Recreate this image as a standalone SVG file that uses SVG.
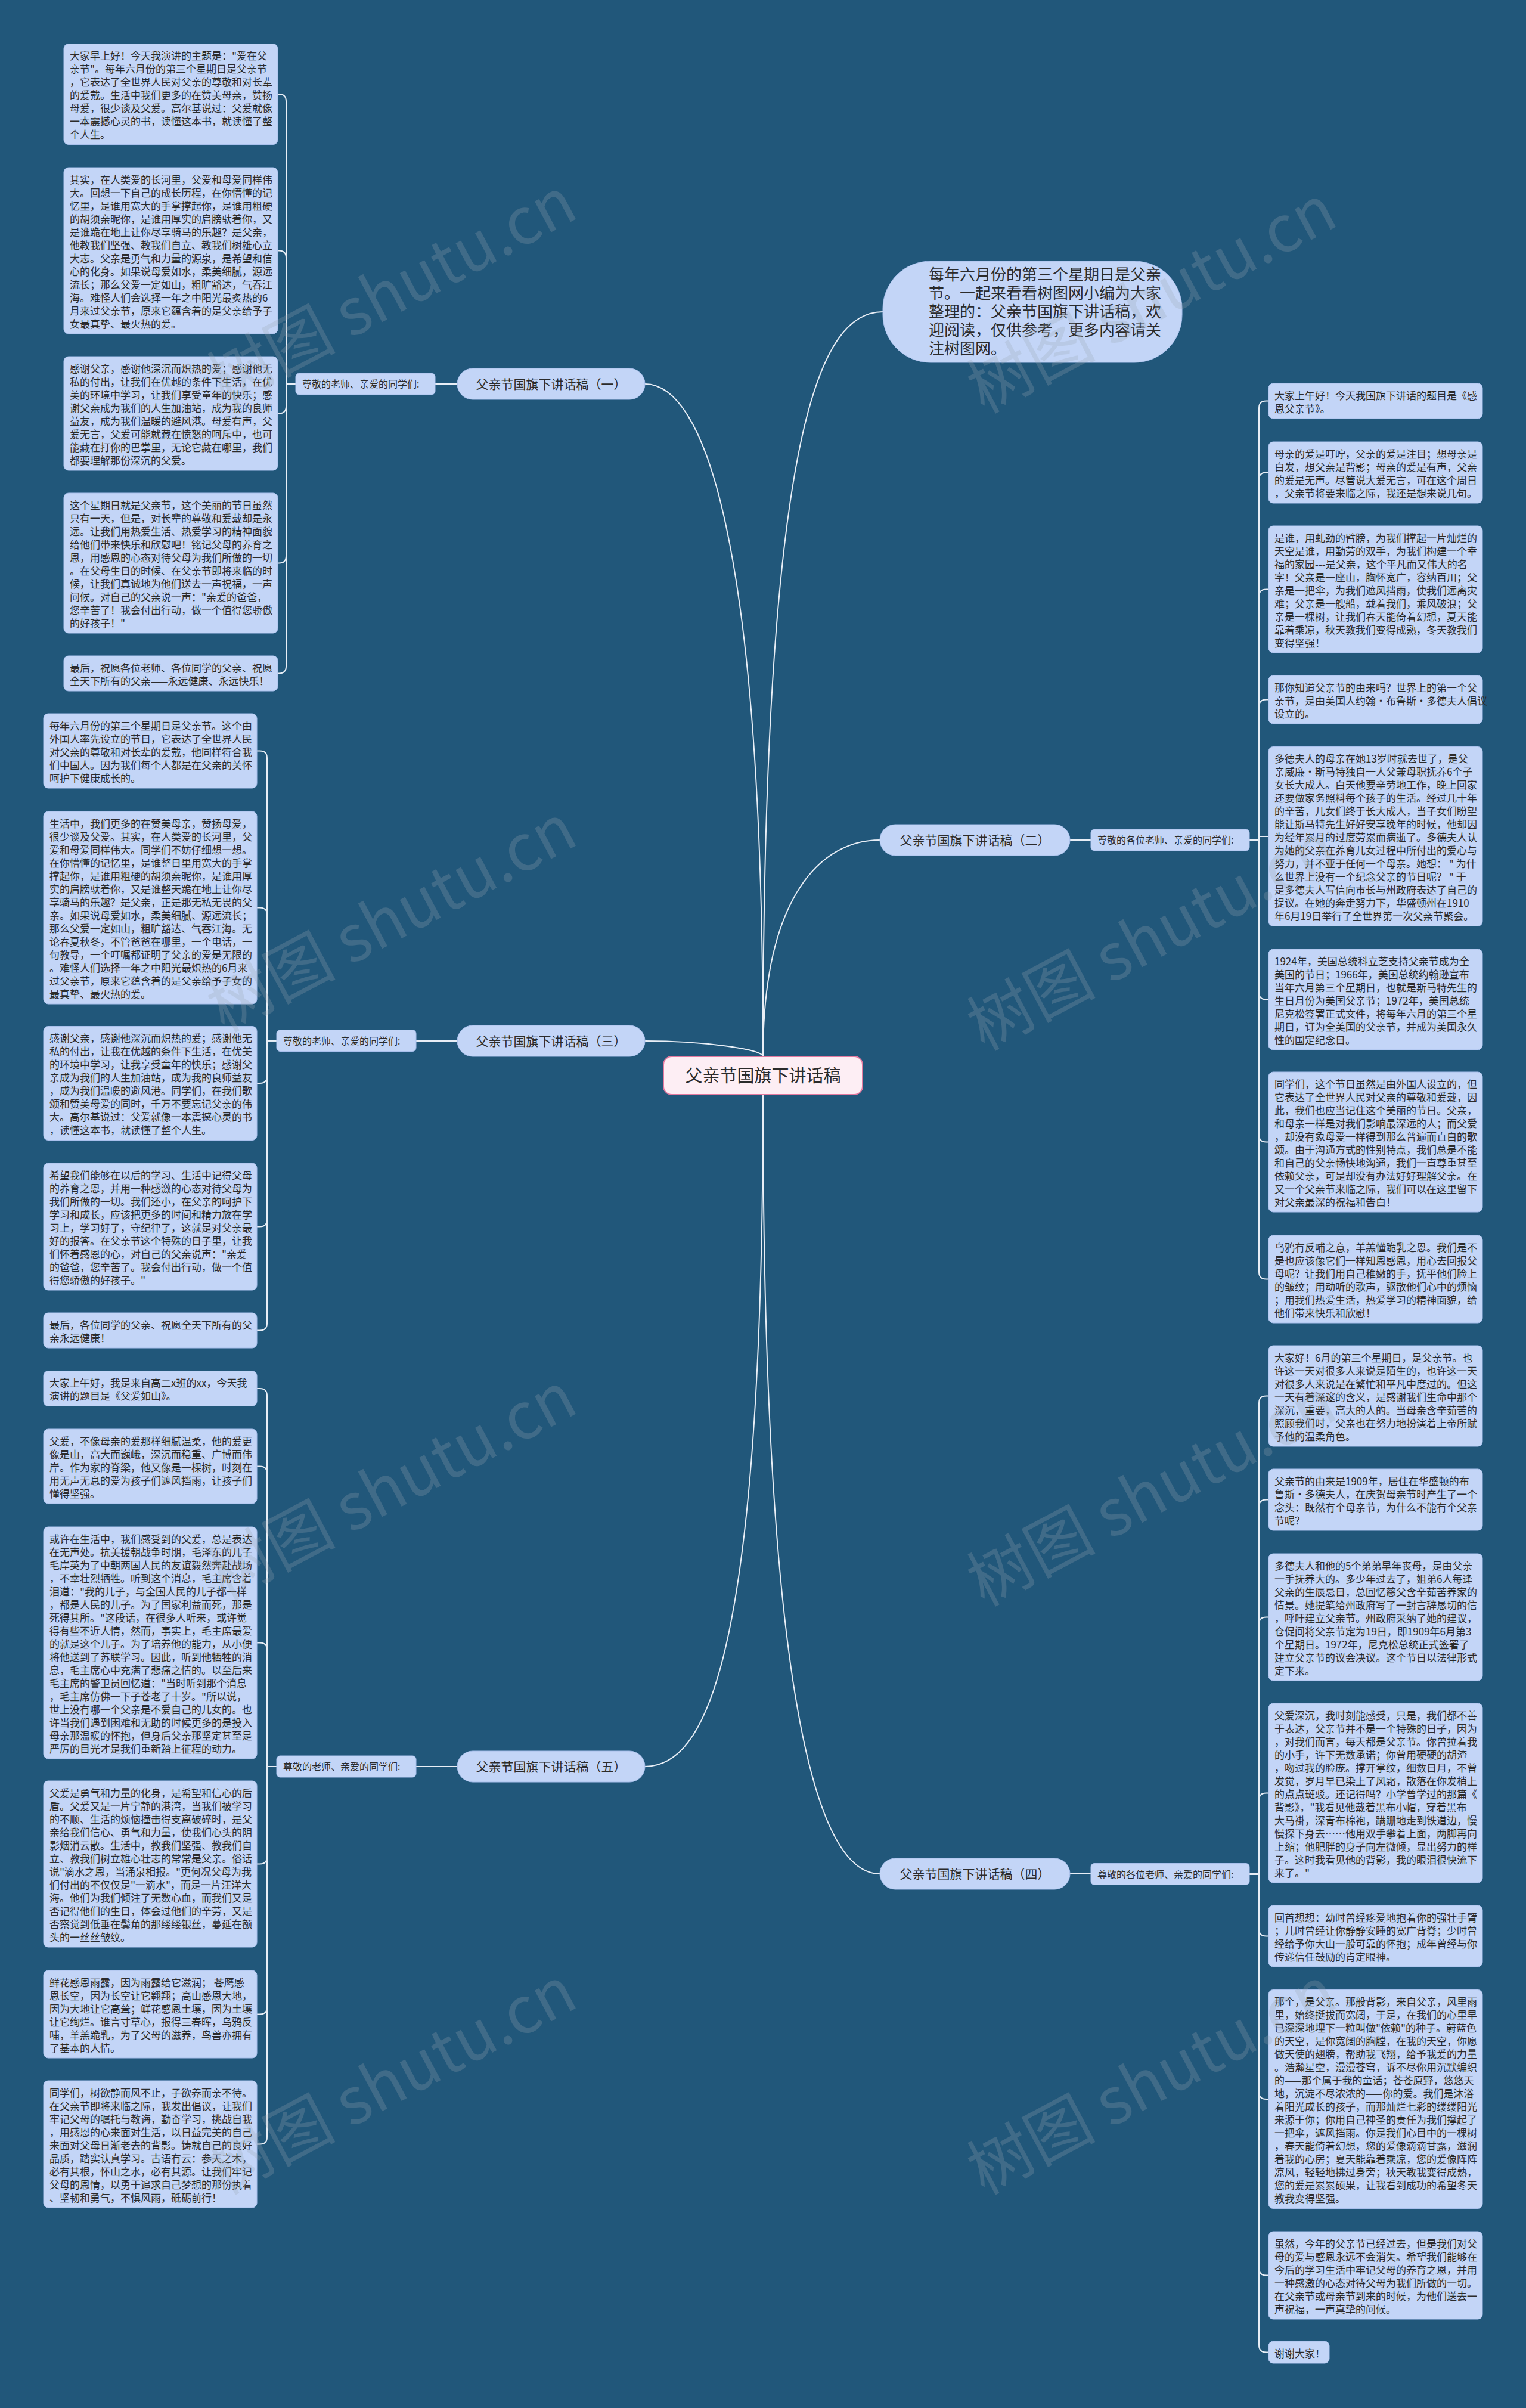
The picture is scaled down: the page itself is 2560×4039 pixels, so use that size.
<svg xmlns="http://www.w3.org/2000/svg" width="2560" height="4039" viewBox="0 0 2560 4039">
<style>
.box{fill:#c3d5f7;stroke:#a9c0ec;stroke-width:1}
.t{font-family:"Noto Sans CJK SC","Noto Sans",sans-serif;font-size:17px;fill:#2b2b2b}
.lbl{font-family:"Noto Sans CJK SC","Noto Sans",sans-serif;font-size:16px;fill:#2b2b2b}
.br{font-family:"Noto Sans CJK SC","Noto Sans",sans-serif;font-size:21px;fill:#2b2b2b}
.conn{fill:none;stroke:#e8eef6;stroke-width:2}
.wm{font-family:"Noto Sans CJK SC","Noto Sans",sans-serif;font-size:108px;fill:#9aa6b2;fill-opacity:0.26}
</style>
<rect width="2560" height="4039" fill="#21577a"/>

<g id="connectors">
<path class="conn" d="M1280 1772 C1280 900 1180 644 1082 644"/>
<path class="conn" d="M1280 1772 C1280 1760 1180 1746 1082 1746"/>
<path class="conn" d="M1280 1836 C1280 2800 1180 2963 1082 2963"/>
<path class="conn" d="M1280 1772 C1280 700 1380 523 1481 523"/>
<path class="conn" d="M1280 1772 C1280 1500 1380 1409 1476 1409"/>
<path class="conn" d="M1280 1836 C1280 2900 1380 3143 1476 3143"/>
<path class="conn" d="M767 644 H730"/>
<path class="conn" d="M767 1746 H698"/>
<path class="conn" d="M767 2963 H698"/>
<path class="conn" d="M1795 1409 H1830"/>
<path class="conn" d="M1795 3143 H1830"/>
<path class="conn" d="M496 644 H480 V170 Q480 158 468 158 H466"/>
<path class="conn" d="M496 644 H480 V432.5 Q480 420.5 468 420.5 H466"/>
<path class="conn" d="M496 644 H480 V681.5 Q480 693.5 468 693.5 H466"/>
<path class="conn" d="M496 644 H480 V932.5 Q480 944.5 468 944.5 H466"/>
<path class="conn" d="M496 644 H480 V1117.5 Q480 1129.5 468 1129.5 H466"/>
<path class="conn" d="M464 1745.5 H448 V1271.5 Q448 1259.5 436 1259.5 H431"/>
<path class="conn" d="M464 1745.5 H448 V1534.5 Q448 1522.5 436 1522.5 H431"/>
<path class="conn" d="M464 1745.5 H448 V1805 Q448 1817 436 1817 H431"/>
<path class="conn" d="M464 1745.5 H448 V2045.5 Q448 2057.5 436 2057.5 H431"/>
<path class="conn" d="M464 1745.5 H448 V2219.5 Q448 2231.5 436 2231.5 H431"/>
<path class="conn" d="M464 2963 H448 V2341 Q448 2329 436 2329 H431"/>
<path class="conn" d="M464 2963 H448 V2471.5 Q448 2459.5 436 2459.5 H431"/>
<path class="conn" d="M464 2963 H448 V2767.5 Q448 2755.5 436 2755.5 H431"/>
<path class="conn" d="M464 2963 H448 V3114.5 Q448 3126.5 436 3126.5 H431"/>
<path class="conn" d="M464 2963 H448 V3366.5 Q448 3378.5 436 3378.5 H431"/>
<path class="conn" d="M464 2963 H448 V3584.5 Q448 3596.5 436 3596.5 H431"/>
<path class="conn" d="M2096 1409 H2112 V684.5 Q2112 672.5 2124 672.5 H2128"/>
<path class="conn" d="M2096 1409 H2112 V804.5 Q2112 792.5 2124 792.5 H2128"/>
<path class="conn" d="M2096 1409 H2112 V1000.5 Q2112 988.5 2124 988.5 H2128"/>
<path class="conn" d="M2096 1409 H2112 V1185.5 Q2112 1173.5 2124 1173.5 H2128"/>
<path class="conn" d="M2096 1409 H2112 V1403 H2128"/>
<path class="conn" d="M2096 1409 H2112 V1664.5 Q2112 1676.5 2124 1676.5 H2128"/>
<path class="conn" d="M2096 1409 H2112 V1903.5 Q2112 1915.5 2124 1915.5 H2128"/>
<path class="conn" d="M2096 1409 H2112 V2133.5 Q2112 2145.5 2124 2145.5 H2128"/>
<path class="conn" d="M2096 3143.5 H2112 V2353.5 Q2112 2341.5 2124 2341.5 H2128"/>
<path class="conn" d="M2096 3143.5 H2112 V2527.5 Q2112 2515.5 2124 2515.5 H2128"/>
<path class="conn" d="M2096 3143.5 H2112 V2724.5 Q2112 2712.5 2124 2712.5 H2128"/>
<path class="conn" d="M2096 3143.5 H2112 V3019.5 Q2112 3007.5 2124 3007.5 H2128"/>
<path class="conn" d="M2096 3143.5 H2112 V3235.5 Q2112 3247.5 2124 3247.5 H2128"/>
<path class="conn" d="M2096 3143.5 H2112 V3509 Q2112 3521 2124 3521 H2128"/>
<path class="conn" d="M2096 3143.5 H2112 V3804.5 Q2112 3816.5 2124 3816.5 H2128"/>
<path class="conn" d="M2096 3143.5 H2112 V3933.5 Q2112 3945.5 2124 3945.5 H2128"/>
</g>

<g id="root">
<rect x="1113" y="1772" width="334" height="64" rx="14" fill="#fdeef4" stroke="#e37aa0" stroke-width="2"/>
<text x="1280" y="1815" text-anchor="middle" font-family="'Noto Sans CJK SC',sans-serif" font-size="29" fill="#2b2b2b">父亲节国旗下讲话稿</text>
</g>

<g id="intro">
<rect class="box" x="1481" y="438" width="502" height="170" rx="80"/>
<text class="t" style="font-size:26px" x="1558" y="470"><tspan x="1558" dy="0">每年六月份的第三个星期日是父亲</tspan><tspan x="1558" dy="31">节。一起来看看树图网小编为大家</tspan><tspan x="1558" dy="31">整理的：父亲节国旗下讲话稿，欢</tspan><tspan x="1558" dy="31">迎阅读，仅供参考，更多内容请关</tspan><tspan x="1558" dy="31">注树图网。</tspan></text>
</g>

<g id="b1"><rect class="box" x="767" y="618" width="315" height="52" rx="26"/><text class="br" x="924.5" y="651.5" text-anchor="middle">父亲节国旗下讲话稿（一）</text></g>
<g id="b3"><rect class="box" x="767" y="1720" width="315" height="52" rx="26"/><text class="br" x="924.5" y="1753.5" text-anchor="middle">父亲节国旗下讲话稿（三）</text></g>
<g id="b5"><rect class="box" x="767" y="2937" width="315" height="52" rx="26"/><text class="br" x="924.5" y="2970.5" text-anchor="middle">父亲节国旗下讲话稿（五）</text></g>
<g id="b2"><rect class="box" x="1476" y="1383" width="319" height="52" rx="26"/><text class="br" x="1635.5" y="1416.5" text-anchor="middle">父亲节国旗下讲话稿（二）</text></g>
<g id="b4"><rect class="box" x="1476" y="3117" width="319" height="52" rx="26"/><text class="br" x="1635.5" y="3150.5" text-anchor="middle">父亲节国旗下讲话稿（四）</text></g>

<g id="lb1"><rect class="box" x="496" y="626" width="234" height="36" rx="6"/><text class="lbl" x="507" y="650">尊敬的老师、亲爱的同学们:</text></g>
<g id="lb3"><rect class="box" x="464" y="1727.5" width="234" height="36" rx="6"/><text class="lbl" x="475" y="1751.5">尊敬的老师、亲爱的同学们:</text></g>
<g id="lb5"><rect class="box" x="464" y="2945" width="234" height="36" rx="6"/><text class="lbl" x="475" y="2969">尊敬的老师、亲爱的同学们:</text></g>
<g id="lb2"><rect class="box" x="1830" y="1391" width="266" height="36" rx="6"/><text class="lbl" x="1841" y="1415">尊敬的各位老师、亲爱的同学们:</text></g>
<g id="lb4"><rect class="box" x="1830" y="3125.5" width="266" height="36" rx="6"/><text class="lbl" x="1841" y="3149.5">尊敬的各位老师、亲爱的同学们:</text></g>

<g id="n-l1"><rect class="box" x="107" y="73.5" width="359" height="169" rx="8"/><text class="t" x="117" y="100"><tspan x="117" dy="0">大家早上好！今天我演讲的主题是："爱在父</tspan><tspan x="117" dy="22">亲节"。每年六月份的第三个星期日是父亲节</tspan><tspan x="117" dy="22">，它表达了全世界人民对父亲的尊敬和对长辈</tspan><tspan x="117" dy="22">的爱戴。生活中我们更多的在赞美母亲，赞扬</tspan><tspan x="117" dy="22">母爱，很少谈及父爱。高尔基说过：父爱就像</tspan><tspan x="117" dy="22">一本震撼心灵的书，读懂这本书，就读懂了整</tspan><tspan x="117" dy="22">个人生。</tspan></text></g>
<g id="n-l2"><rect class="box" x="107" y="281" width="359" height="279" rx="8"/><text class="t" x="117" y="307.5"><tspan x="117" dy="0">其实，在人类爱的长河里，父爱和母爱同样伟</tspan><tspan x="117" dy="22">大。回想一下自己的成长历程，在你懵懂的记</tspan><tspan x="117" dy="22">忆里，是谁用宽大的手掌撑起你，是谁用粗硬</tspan><tspan x="117" dy="22">的胡须亲昵你，是谁用厚实的肩膀驮着你，又</tspan><tspan x="117" dy="22">是谁跪在地上让你尽享骑马的乐趣？是父亲，</tspan><tspan x="117" dy="22">他教我们坚强、教我们自立、教我们树雄心立</tspan><tspan x="117" dy="22">大志。父亲是勇气和力量的源泉，是希望和信</tspan><tspan x="117" dy="22">心的化身。如果说母爱如水，柔美细腻，源远</tspan><tspan x="117" dy="22">流长；那么父爱一定如山，粗旷豁达，气吞江</tspan><tspan x="117" dy="22">海。难怪人们会选择一年之中阳光最炙热的6</tspan><tspan x="117" dy="22">月来过父亲节，原来它蕴含着的是父亲给予子</tspan><tspan x="117" dy="22">女最真挚、最火热的爱。</tspan></text></g>
<g id="n-l3"><rect class="box" x="107" y="598" width="359" height="191" rx="8"/><text class="t" x="117" y="624.5"><tspan x="117" dy="0">感谢父亲，感谢他深沉而炽热的爱；感谢他无</tspan><tspan x="117" dy="22">私的付出，让我们在优越的条件下生活，在优</tspan><tspan x="117" dy="22">美的环境中学习，让我们享受童年的快乐；感</tspan><tspan x="117" dy="22">谢父亲成为我们的人生加油站，成为我的良师</tspan><tspan x="117" dy="22">益友，成为我们温暖的避风港。母爱有声，父</tspan><tspan x="117" dy="22">爱无言，父爱可能就藏在愤怒的呵斥中，也可</tspan><tspan x="117" dy="22">能藏在打你的巴掌里，无论它藏在哪里，我们</tspan><tspan x="117" dy="22">都要理解那份深沉的父爱。</tspan></text></g>
<g id="n-l4"><rect class="box" x="107" y="827" width="359" height="235" rx="8"/><text class="t" x="117" y="853.5"><tspan x="117" dy="0">这个星期日就是父亲节，这个美丽的节日虽然</tspan><tspan x="117" dy="22">只有一天，但是，对长辈的尊敬和爱戴却是永</tspan><tspan x="117" dy="22">远。让我们用热爱生活、热爱学习的精神面貌</tspan><tspan x="117" dy="22">给他们带来快乐和欣慰吧！铭记父母的养育之</tspan><tspan x="117" dy="22">恩，用感恩的心态对待父母为我们所做的一切</tspan><tspan x="117" dy="22">。在父母生日的时候、在父亲节即将来临的时</tspan><tspan x="117" dy="22">候，让我们真诚地为他们送去一声祝福，一声</tspan><tspan x="117" dy="22">问候。对自己的父亲说一声："亲爱的爸爸，</tspan><tspan x="117" dy="22">您辛苦了！我会付出行动，做一个值得您骄傲</tspan><tspan x="117" dy="22">的好孩子！"</tspan></text></g>
<g id="n-l5"><rect class="box" x="107" y="1100" width="359" height="59" rx="8"/><text class="t" x="117" y="1126.5"><tspan x="117" dy="0">最后，祝愿各位老师、各位同学的父亲、祝愿</tspan><tspan x="117" dy="22">全天下所有的父亲——永远健康、永远快乐！</tspan></text></g>

<g id="n-l6"><rect class="box" x="73" y="1197" width="358" height="125" rx="8"/><text class="t" x="83" y="1223.5"><tspan x="83" dy="0">每年六月份的第三个星期日是父亲节。这个由</tspan><tspan x="83" dy="22">外国人率先设立的节日，它表达了全世界人民</tspan><tspan x="83" dy="22">对父亲的尊敬和对长辈的爱戴，他同样符合我</tspan><tspan x="83" dy="22">们中国人。因为我们每个人都是在父亲的关怀</tspan><tspan x="83" dy="22">呵护下健康成长的。</tspan></text></g>
<g id="n-l7"><rect class="box" x="73" y="1361" width="358" height="323" rx="8"/><text class="t" x="83" y="1387.5"><tspan x="83" dy="0">生活中，我们更多的在赞美母亲，赞扬母爱，</tspan><tspan x="83" dy="22">很少谈及父爱。其实，在人类爱的长河里，父</tspan><tspan x="83" dy="22">爱和母爱同样伟大。同学们不妨仔细想一想。</tspan><tspan x="83" dy="22">在你懵懂的记忆里，是谁整日里用宽大的手掌</tspan><tspan x="83" dy="22">撑起你，是谁用粗硬的胡须亲昵你，是谁用厚</tspan><tspan x="83" dy="22">实的肩膀驮着你，又是谁整天跪在地上让你尽</tspan><tspan x="83" dy="22">享骑马的乐趣？是父亲，正是那无私无畏的父</tspan><tspan x="83" dy="22">亲。如果说母爱如水，柔美细腻、源远流长；</tspan><tspan x="83" dy="22">那么父爱一定如山，粗旷豁达、气吞江海。无</tspan><tspan x="83" dy="22">论春夏秋冬，不管爸爸在哪里，一个电话，一</tspan><tspan x="83" dy="22">句教导，一个叮嘱都证明了父亲的爱是无限的</tspan><tspan x="83" dy="22">。难怪人们选择一年之中阳光最炽热的6月来</tspan><tspan x="83" dy="22">过父亲节，原来它蕴含着的是父亲给予子女的</tspan><tspan x="83" dy="22">最真挚、最火热的爱。</tspan></text></g>
<g id="n-l8"><rect class="box" x="73" y="1721.5" width="358" height="191" rx="8"/><text class="t" x="83" y="1748"><tspan x="83" dy="0">感谢父亲，感谢他深沉而炽热的爱；感谢他无</tspan><tspan x="83" dy="22">私的付出，让我在优越的条件下生活，在优美</tspan><tspan x="83" dy="22">的环境中学习，让我享受童年的快乐；感谢父</tspan><tspan x="83" dy="22">亲成为我们的人生加油站，成为我的良师益友</tspan><tspan x="83" dy="22">，成为我们温暖的避风港。同学们，在我们歌</tspan><tspan x="83" dy="22">颂和赞美母爱的同时，千万不要忘记父亲的伟</tspan><tspan x="83" dy="22">大。高尔基说过：父爱就像一本震撼心灵的书</tspan><tspan x="83" dy="22">，读懂这本书，就读懂了整个人生。</tspan></text></g>
<g id="n-l9"><rect class="box" x="73" y="1951" width="358" height="213" rx="8"/><text class="t" x="83" y="1977.5"><tspan x="83" dy="0">希望我们能够在以后的学习、生活中记得父母</tspan><tspan x="83" dy="22">的养育之恩，并用一种感激的心态对待父母为</tspan><tspan x="83" dy="22">我们所做的一切。我们还小，在父亲的呵护下</tspan><tspan x="83" dy="22">学习和成长，应该把更多的时间和精力放在学</tspan><tspan x="83" dy="22">习上，学习好了，守纪律了，这就是对父亲最</tspan><tspan x="83" dy="22">好的报答。在父亲节这个特殊的日子里，让我</tspan><tspan x="83" dy="22">们怀着感恩的心，对自己的父亲说声："亲爱</tspan><tspan x="83" dy="22">的爸爸，您辛苦了。我会付出行动，做一个值</tspan><tspan x="83" dy="22">得您骄傲的好孩子。"</tspan></text></g>
<g id="n-l10"><rect class="box" x="73" y="2202" width="358" height="59" rx="8"/><text class="t" x="83" y="2228.5"><tspan x="83" dy="0">最后，各位同学的父亲、祝愿全天下所有的父</tspan><tspan x="83" dy="22">亲永远健康！</tspan></text></g>

<g id="n-l11"><rect class="box" x="73" y="2299.5" width="358" height="59" rx="8"/><text class="t" x="83" y="2326"><tspan x="83" dy="0">大家上午好，我是来自高二x班的xx，今天我</tspan><tspan x="83" dy="22">演讲的题目是《父爱如山》。</tspan></text></g>
<g id="n-l12"><rect class="box" x="73" y="2397" width="358" height="125" rx="8"/><text class="t" x="83" y="2423.5"><tspan x="83" dy="0">父爱，不像母亲的爱那样细腻温柔，他的爱更</tspan><tspan x="83" dy="22">像是山，高大而巍峨，深沉而稳重、广博而伟</tspan><tspan x="83" dy="22">岸。作为家的脊梁，他又像是一棵树，时刻在</tspan><tspan x="83" dy="22">用无声无息的爱为孩子们遮风挡雨，让孩子们</tspan><tspan x="83" dy="22">懂得坚强。</tspan></text></g>
<g id="n-l13"><rect class="box" x="73" y="2561" width="358" height="389" rx="8"/><text class="t" x="83" y="2587.5"><tspan x="83" dy="0">或许在生活中，我们感受到的父爱，总是表达</tspan><tspan x="83" dy="22">在无声处。抗美援朝战争时期，毛泽东的儿子</tspan><tspan x="83" dy="22">毛岸英为了中朝两国人民的友谊毅然奔赴战场</tspan><tspan x="83" dy="22">，不幸壮烈牺牲。听到这个消息，毛主席含着</tspan><tspan x="83" dy="22">泪道："我的儿子，与全国人民的儿子都一样</tspan><tspan x="83" dy="22">，都是人民的儿子。为了国家利益而死，那是</tspan><tspan x="83" dy="22">死得其所。"这段话，在很多人听来，或许觉</tspan><tspan x="83" dy="22">得有些不近人情，然而，事实上，毛主席最爱</tspan><tspan x="83" dy="22">的就是这个儿子。为了培养他的能力，从小便</tspan><tspan x="83" dy="22">将他送到了苏联学习。因此，听到他牺牲的消</tspan><tspan x="83" dy="22">息，毛主席心中充满了悲痛之情的。以至后来</tspan><tspan x="83" dy="22">毛主席的警卫员回忆道："当时听到那个消息</tspan><tspan x="83" dy="22">，毛主席仿佛一下子苍老了十岁。"所以说，</tspan><tspan x="83" dy="22">世上没有哪一个父亲是不爱自己的儿女的。也</tspan><tspan x="83" dy="22">许当我们遇到困难和无助的时候更多的是投入</tspan><tspan x="83" dy="22">母亲那温暖的怀抱，但身后父亲那坚定甚至是</tspan><tspan x="83" dy="22">严厉的目光才是我们重新踏上征程的动力。</tspan></text></g>
<g id="n-l14"><rect class="box" x="73" y="2987" width="358" height="279" rx="8"/><text class="t" x="83" y="3013.5"><tspan x="83" dy="0">父爱是勇气和力量的化身，是希望和信心的后</tspan><tspan x="83" dy="22">盾。父爱又是一片宁静的港湾，当我们被学习</tspan><tspan x="83" dy="22">的不顺、生活的烦恼撞击得支离破碎时，是父</tspan><tspan x="83" dy="22">亲给我们信心、勇气和力量，使我们心头的阴</tspan><tspan x="83" dy="22">影烟消云散。生活中，教我们坚强、教我们自</tspan><tspan x="83" dy="22">立、教我们树立雄心壮志的常常是父亲。俗话</tspan><tspan x="83" dy="22">说"滴水之恩，当涌泉相报。"更何况父母为我</tspan><tspan x="83" dy="22">们付出的不仅仅是"一滴水"，而是一片汪洋大</tspan><tspan x="83" dy="22">海。他们为我们倾注了无数心血，而我们又是</tspan><tspan x="83" dy="22">否记得他们的生日，体会过他们的辛劳，又是</tspan><tspan x="83" dy="22">否察觉到低垂在鬓角的那缕缕银丝，蔓延在额</tspan><tspan x="83" dy="22">头的一丝丝皱纹。</tspan></text></g>
<g id="n-l15"><rect class="box" x="73" y="3305" width="358" height="147" rx="8"/><text class="t" x="83" y="3331.5"><tspan x="83" dy="0">鲜花感恩雨露，因为雨露给它滋润； 苍鹰感</tspan><tspan x="83" dy="22">恩长空，因为长空让它翱翔；高山感恩大地，</tspan><tspan x="83" dy="22">因为大地让它高耸；鲜花感恩土壤，因为土壤</tspan><tspan x="83" dy="22">让它绚烂。谁言寸草心，报得三春晖，乌鸦反</tspan><tspan x="83" dy="22">哺，羊羔跪乳，为了父母的滋养，鸟兽亦拥有</tspan><tspan x="83" dy="22">了基本的人情。</tspan></text></g>
<g id="n-l16"><rect class="box" x="73" y="3490" width="358" height="213" rx="8"/><text class="t" x="83" y="3516.5"><tspan x="83" dy="0">同学们，树欲静而风不止，子欲养而亲不待。</tspan><tspan x="83" dy="22">在父亲节即将来临之际，我发出倡议，让我们</tspan><tspan x="83" dy="22">牢记父母的嘱托与教诲，勤奋学习，挑战自我</tspan><tspan x="83" dy="22">，用感恩的心来面对生活，以日益完美的自己</tspan><tspan x="83" dy="22">来面对父母日渐老去的背影。铸就自己的良好</tspan><tspan x="83" dy="22">品质，踏实认真学习。古语有云：参天之木，</tspan><tspan x="83" dy="22">必有其根，怀山之水，必有其源。让我们牢记</tspan><tspan x="83" dy="22">父母的恩情，以勇于追求自己梦想的那份执着</tspan><tspan x="83" dy="22">、坚韧和勇气，不惧风雨，砥砺前行！</tspan></text></g>

<g id="n-r1"><rect class="box" x="2128" y="643" width="359" height="59" rx="8"/><text class="t" x="2138" y="669.5"><tspan x="2138" dy="0">大家上午好！今天我国旗下讲话的题目是《感</tspan><tspan x="2138" dy="22">恩父亲节》。</tspan></text></g>
<g id="n-r2"><rect class="box" x="2128" y="741" width="359" height="103" rx="8"/><text class="t" x="2138" y="767.5"><tspan x="2138" dy="0">母亲的爱是叮咛，父亲的爱是注目；想母亲是</tspan><tspan x="2138" dy="22">白发，想父亲是背影；母亲的爱是有声，父亲</tspan><tspan x="2138" dy="22">的爱是无声。尽管说大爱无言，可在这个周日</tspan><tspan x="2138" dy="22">，父亲节将要来临之际，我还是想来说几句。</tspan></text></g>
<g id="n-r3"><rect class="box" x="2128" y="882" width="359" height="213" rx="8"/><text class="t" x="2138" y="908.5"><tspan x="2138" dy="0">是谁，用虬劲的臂膀，为我们撑起一片灿烂的</tspan><tspan x="2138" dy="22">天空是谁，用勤劳的双手，为我们构建一个幸</tspan><tspan x="2138" dy="22">福的家园---是父亲，这个平凡而又伟大的名</tspan><tspan x="2138" dy="22">字！父亲是一座山，胸怀宽广，容纳百川；父</tspan><tspan x="2138" dy="22">亲是一把伞，为我们遮风挡雨，使我们远离灾</tspan><tspan x="2138" dy="22">难；父亲是一艘船，载着我们，乘风破浪；父</tspan><tspan x="2138" dy="22">亲是一棵树，让我们春天能倚着幻想，夏天能</tspan><tspan x="2138" dy="22">靠着乘凉，秋天教我们变得成熟，冬天教我们</tspan><tspan x="2138" dy="22">变得坚强！</tspan></text></g>
<g id="n-r4"><rect class="box" x="2128" y="1133" width="359" height="81" rx="8"/><text class="t" x="2138" y="1159.5"><tspan x="2138" dy="0">那你知道父亲节的由来吗？世界上的第一个父</tspan><tspan x="2138" dy="22">亲节，是由美国人约翰·布鲁斯·多德夫人倡议</tspan><tspan x="2138" dy="22">设立的。</tspan></text></g>
<g id="n-r5"><rect class="box" x="2128" y="1252.5" width="359" height="301" rx="8"/><text class="t" x="2138" y="1279"><tspan x="2138" dy="0">多德夫人的母亲在她13岁时就去世了，是父</tspan><tspan x="2138" dy="22">亲威廉·斯马特独自一人父兼母职抚养6个子</tspan><tspan x="2138" dy="22">女长大成人。白天他要辛劳地工作，晚上回家</tspan><tspan x="2138" dy="22">还要做家务照料每个孩子的生活。经过几十年</tspan><tspan x="2138" dy="22">的辛苦，儿女们终于长大成人，当子女们盼望</tspan><tspan x="2138" dy="22">能让斯马特先生好好安享晚年的时候，他却因</tspan><tspan x="2138" dy="22">为经年累月的过度劳累而病逝了。多德夫人认</tspan><tspan x="2138" dy="22">为她的父亲在养育儿女过程中所付出的爱心与</tspan><tspan x="2138" dy="22">努力，并不亚于任何一个母亲。她想： " 为什</tspan><tspan x="2138" dy="22">么世界上没有一个纪念父亲的节日呢？ " 于</tspan><tspan x="2138" dy="22">是多德夫人写信向市长与州政府表达了自己的</tspan><tspan x="2138" dy="22">提议。在她的奔走努力下，华盛顿州在1910</tspan><tspan x="2138" dy="22">年6月19日举行了全世界第一次父亲节聚会。</tspan></text></g>
<g id="n-r6"><rect class="box" x="2128" y="1592" width="359" height="169" rx="8"/><text class="t" x="2138" y="1618.5"><tspan x="2138" dy="0">1924年，美国总统科立芝支持父亲节成为全</tspan><tspan x="2138" dy="22">美国的节日；1966年，美国总统约翰逊宣布</tspan><tspan x="2138" dy="22">当年六月第三个星期日，也就是斯马特先生的</tspan><tspan x="2138" dy="22">生日月份为美国父亲节；1972年，美国总统</tspan><tspan x="2138" dy="22">尼克松签署正式文件，将每年六月的第三个星</tspan><tspan x="2138" dy="22">期日，订为全美国的父亲节，并成为美国永久</tspan><tspan x="2138" dy="22">性的国定纪念日。</tspan></text></g>
<g id="n-r7"><rect class="box" x="2128" y="1798" width="359" height="235" rx="8"/><text class="t" x="2138" y="1824.5"><tspan x="2138" dy="0">同学们，这个节日虽然是由外国人设立的，但</tspan><tspan x="2138" dy="22">它表达了全世界人民对父亲的尊敬和爱戴，因</tspan><tspan x="2138" dy="22">此，我们也应当记住这个美丽的节日。父亲，</tspan><tspan x="2138" dy="22">和母亲一样是对我们影响最深远的人；而父爱</tspan><tspan x="2138" dy="22">，却没有象母爱一样得到那么普遍而直白的歌</tspan><tspan x="2138" dy="22">颂。由于沟通方式的性别特点，我们总是不能</tspan><tspan x="2138" dy="22">和自己的父亲畅快地沟通，我们一直尊重甚至</tspan><tspan x="2138" dy="22">依赖父亲，可是却没有办法好好理解父亲。在</tspan><tspan x="2138" dy="22">又一个父亲节来临之际，我们可以在这里留下</tspan><tspan x="2138" dy="22">对父亲最深的祝福和告白！</tspan></text></g>
<g id="n-r8"><rect class="box" x="2128" y="2072" width="359" height="147" rx="8"/><text class="t" x="2138" y="2098.5"><tspan x="2138" dy="0">乌鸦有反哺之意，羊羔懂跪乳之恩。我们是不</tspan><tspan x="2138" dy="22">是也应该像它们一样知恩感恩，用心去回报父</tspan><tspan x="2138" dy="22">母呢？让我们用自己稚嫩的手，抚平他们脸上</tspan><tspan x="2138" dy="22">的皱纹；用动听的歌声，驱散他们心中的烦恼</tspan><tspan x="2138" dy="22">；用我们热爱生活，热爱学习的精神面貌，给</tspan><tspan x="2138" dy="22">他们带来快乐和欣慰！</tspan></text></g>

<g id="n-r9"><rect class="box" x="2128" y="2257" width="359" height="169" rx="8"/><text class="t" x="2138" y="2283.5"><tspan x="2138" dy="0">大家好！6月的第三个星期日，是父亲节。也</tspan><tspan x="2138" dy="22">许这一天对很多人来说是陌生的，也许这一天</tspan><tspan x="2138" dy="22">对很多人来说是在繁忙和平凡中度过的。但这</tspan><tspan x="2138" dy="22">一天有着深邃的含义，是感谢我们生命中那个</tspan><tspan x="2138" dy="22">深沉，重要，高大的人的。当母亲含辛茹苦的</tspan><tspan x="2138" dy="22">照顾我们时，父亲也在努力地扮演着上帝所赋</tspan><tspan x="2138" dy="22">予他的温柔角色。</tspan></text></g>
<g id="n-r10"><rect class="box" x="2128" y="2464" width="359" height="103" rx="8"/><text class="t" x="2138" y="2490.5"><tspan x="2138" dy="0">父亲节的由来是1909年，居住在华盛顿的布</tspan><tspan x="2138" dy="22">鲁斯·多德夫人，在庆贺母亲节时产生了一个</tspan><tspan x="2138" dy="22">念头：既然有个母亲节，为什么不能有个父亲</tspan><tspan x="2138" dy="22">节呢？</tspan></text></g>
<g id="n-r11"><rect class="box" x="2128" y="2606" width="359" height="213" rx="8"/><text class="t" x="2138" y="2632.5"><tspan x="2138" dy="0">多德夫人和他的5个弟弟早年丧母，是由父亲</tspan><tspan x="2138" dy="22">一手抚养大的。多少年过去了，姐弟6人每逢</tspan><tspan x="2138" dy="22">父亲的生辰忌日，总回忆慈父含辛茹苦养家的</tspan><tspan x="2138" dy="22">情景。她提笔给州政府写了一封言辞恳切的信</tspan><tspan x="2138" dy="22">，呼吁建立父亲节。州政府采纳了她的建议，</tspan><tspan x="2138" dy="22">仓促间将父亲节定为19日，即1909年6月第3</tspan><tspan x="2138" dy="22">个星期日。1972年，尼克松总统正式签署了</tspan><tspan x="2138" dy="22">建立父亲节的议会决议。这个节日以法律形式</tspan><tspan x="2138" dy="22">定下来。</tspan></text></g>
<g id="n-r12"><rect class="box" x="2128" y="2857" width="359" height="301" rx="8"/><text class="t" x="2138" y="2883.5"><tspan x="2138" dy="0">父爱深沉，我时刻能感受，只是，我们都不善</tspan><tspan x="2138" dy="22">于表达，父亲节并不是一个特殊的日子，因为</tspan><tspan x="2138" dy="22">，对我们而言，每天都是父亲节。你曾拉着我</tspan><tspan x="2138" dy="22">的小手，许下无数承诺；你曾用硬硬的胡渣</tspan><tspan x="2138" dy="22">，吻过我的脸庞。撑开掌纹，细数日月，不曾</tspan><tspan x="2138" dy="22">发觉，岁月早已染上了风霜，散落在你发梢上</tspan><tspan x="2138" dy="22">的点点斑驳。还记得吗？小学曾学过的那篇《</tspan><tspan x="2138" dy="22">背影》，"我看见他戴着黑布小帽，穿着黑布</tspan><tspan x="2138" dy="22">大马褂，深青布棉袍，蹒跚地走到铁道边，慢</tspan><tspan x="2138" dy="22">慢探下身去……他用双手攀着上面，两脚再向</tspan><tspan x="2138" dy="22">上缩；他肥胖的身子向左微倾，显出努力的样</tspan><tspan x="2138" dy="22">子。这时我看见他的背影，我的眼泪很快流下</tspan><tspan x="2138" dy="22">来了。"</tspan></text></g>
<g id="n-r13"><rect class="box" x="2128" y="3196" width="359" height="103" rx="8"/><text class="t" x="2138" y="3222.5"><tspan x="2138" dy="0">回首想想：幼时曾经疼爱地抱着你的强壮手臂</tspan><tspan x="2138" dy="22">；儿时曾经让你静静安睡的宽广背脊；少时曾</tspan><tspan x="2138" dy="22">经给予你大山一般可靠的怀抱；成年曾经与你</tspan><tspan x="2138" dy="22">传递信任鼓励的肯定眼神。</tspan></text></g>
<g id="n-r14"><rect class="box" x="2128" y="3337.5" width="359" height="367" rx="8"/><text class="t" x="2138" y="3364"><tspan x="2138" dy="0">那个，是父亲。那般背影，来自父亲，风里雨</tspan><tspan x="2138" dy="22">里，始终挺拔而宽阔，于是，在我们的心里早</tspan><tspan x="2138" dy="22">已深深地埋下一粒叫做"依赖"的种子。蔚蓝色</tspan><tspan x="2138" dy="22">的天空，是你宽阔的胸膛，在我的天空，你愿</tspan><tspan x="2138" dy="22">做天使的翅膀，帮助我飞翔，给予我爱的力量</tspan><tspan x="2138" dy="22">。浩瀚星空，漫漫苍穹，诉不尽你用沉默编织</tspan><tspan x="2138" dy="22">的——那个属于我的童话；苍苍原野，悠悠天</tspan><tspan x="2138" dy="22">地，沉淀不尽浓浓的——你的爱。我们是沐浴</tspan><tspan x="2138" dy="22">着阳光成长的孩子，而那灿烂七彩的缕缕阳光</tspan><tspan x="2138" dy="22">来源于你；你用自己神圣的责任为我们撑起了</tspan><tspan x="2138" dy="22">一把伞，遮风挡雨。你是我们心目中的一棵树</tspan><tspan x="2138" dy="22">，春天能倚着幻想，您的爱像滴滴甘露，滋润</tspan><tspan x="2138" dy="22">着我的心房；夏天能靠着乘凉，您的爱像阵阵</tspan><tspan x="2138" dy="22">凉风，轻轻地拂过身旁；秋天教我变得成熟，</tspan><tspan x="2138" dy="22">您的爱是累累硕果，让我看到成功的希望冬天</tspan><tspan x="2138" dy="22">教我变得坚强。</tspan></text></g>
<g id="n-r15"><rect class="box" x="2128" y="3743" width="359" height="147" rx="8"/><text class="t" x="2138" y="3769.5"><tspan x="2138" dy="0">虽然，今年的父亲节已经过去，但是我们对父</tspan><tspan x="2138" dy="22">母的爱与感恩永远不会消失。希望我们能够在</tspan><tspan x="2138" dy="22">今后的学习生活中牢记父母的养育之恩，并用</tspan><tspan x="2138" dy="22">一种感激的心态对待父母为我们所做的一切。</tspan><tspan x="2138" dy="22">在父亲节或母亲节到来的时候，为他们送去一</tspan><tspan x="2138" dy="22">声祝福，一声真挚的问候。</tspan></text></g>
<g id="n-r16"><rect class="box" x="2128" y="3927" width="102" height="37" rx="8"/><text class="t" x="2138" y="3953.5">谢谢大家！</text></g>

<g id="watermarks">
<text class="wm" transform="translate(657 489) rotate(-28)" text-anchor="middle" dy="0.35em">树图 shutu.cn</text>
<text class="wm" transform="translate(1932 502) rotate(-28)" text-anchor="middle" dy="0.35em">树图 shutu.cn</text>
<text class="wm" transform="translate(657 1540) rotate(-28)" text-anchor="middle" dy="0.35em">树图 shutu.cn</text>
<text class="wm" transform="translate(1932 1571) rotate(-28)" text-anchor="middle" dy="0.35em">树图 shutu.cn</text>
<text class="wm" transform="translate(657 2493) rotate(-28)" text-anchor="middle" dy="0.35em">树图 shutu.cn</text>
<text class="wm" transform="translate(1932 2503) rotate(-28)" text-anchor="middle" dy="0.35em">树图 shutu.cn</text>
<text class="wm" transform="translate(657 3490) rotate(-28)" text-anchor="middle" dy="0.35em">树图 shutu.cn</text>
<text class="wm" transform="translate(1932 3490) rotate(-28)" text-anchor="middle" dy="0.35em">树图 shutu.cn</text>
</g>
</svg>
